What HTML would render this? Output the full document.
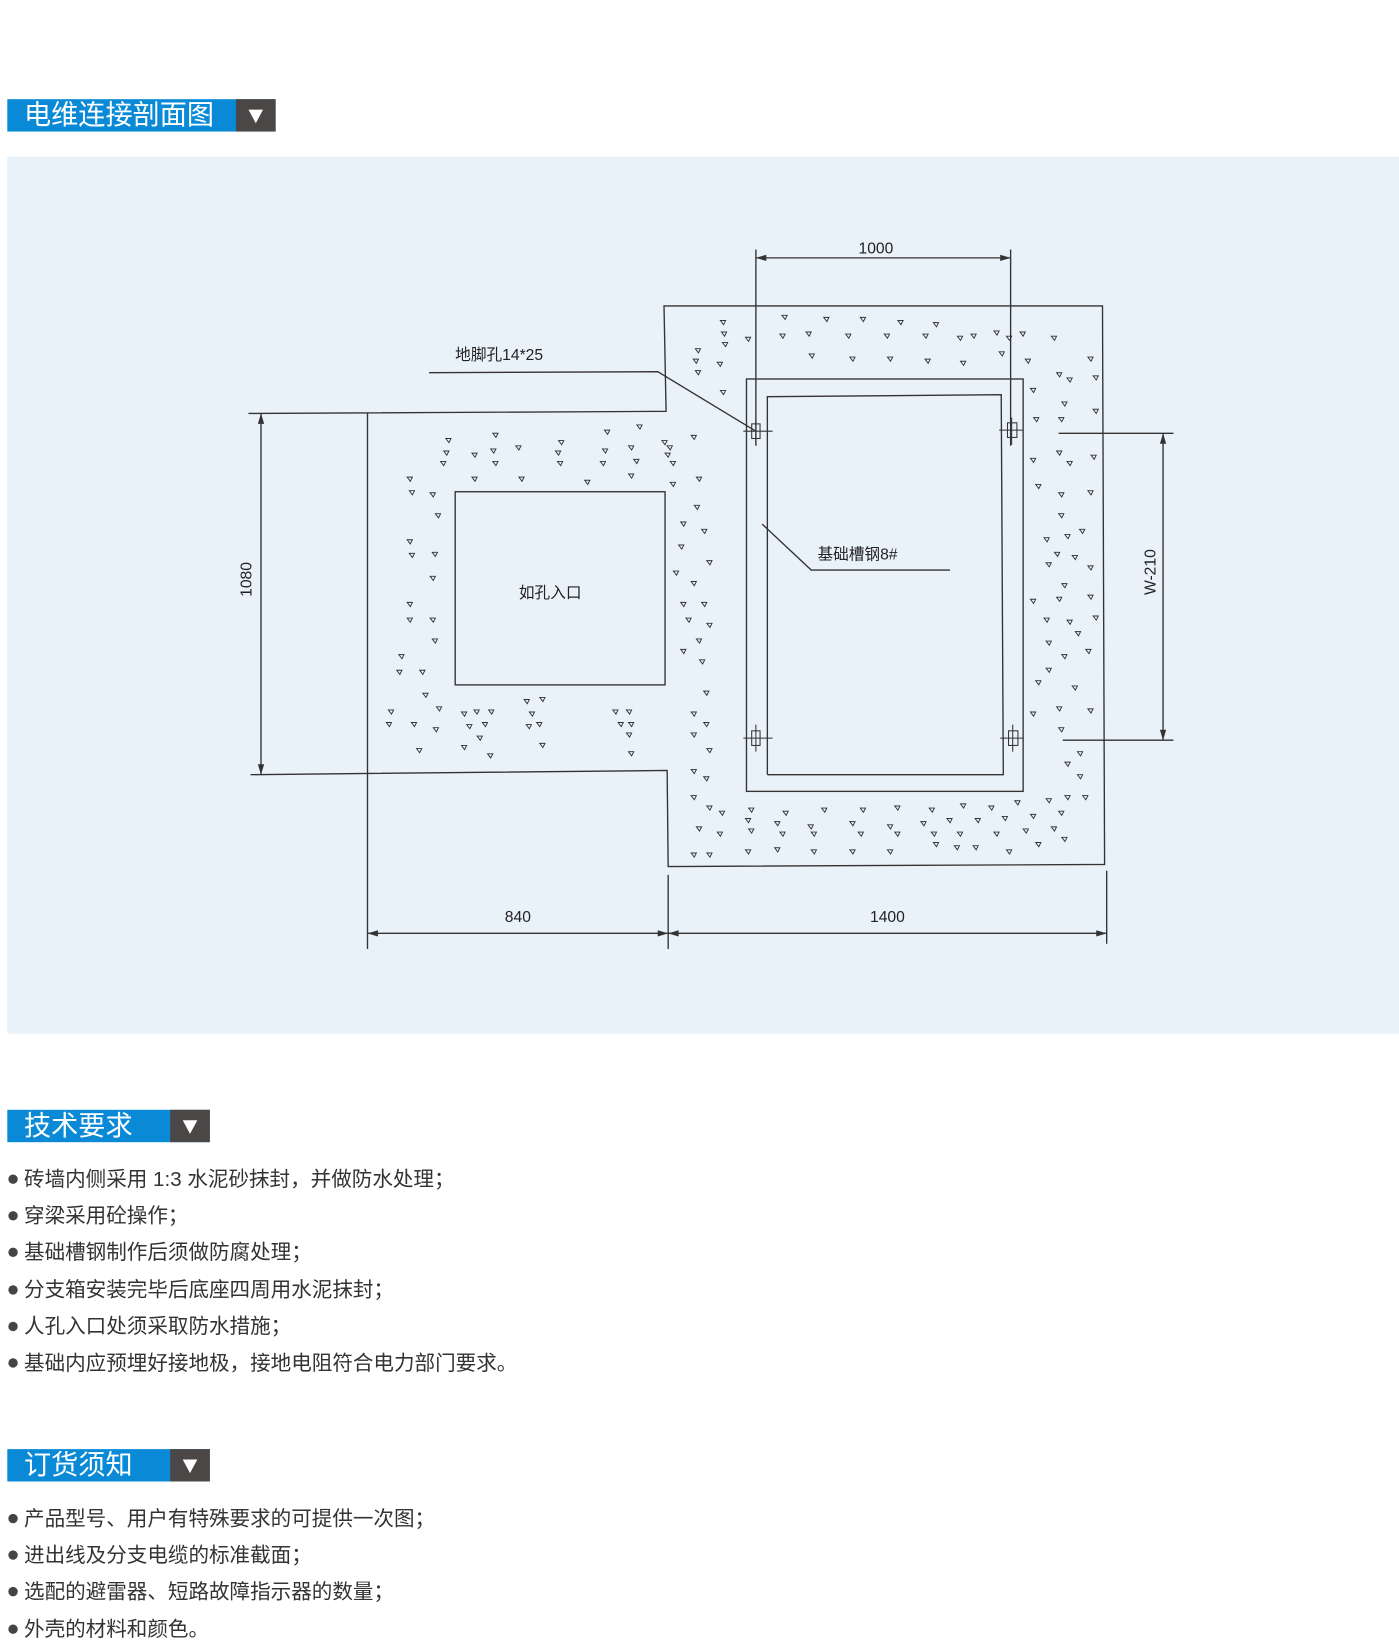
<!DOCTYPE html>
<html><head><meta charset="utf-8"><style>
html,body{margin:0;padding:0;background:#fff;width:1399px;height:1641px;overflow:hidden}
#w{position:absolute;left:0;top:0;width:1340px;height:1572px;transform:scale(1.04403);transform-origin:0 0;font-family:"Liberation Sans","Noto Sans CJK SC",sans-serif}
.bar{position:absolute;left:7px;height:31px;background:#0a8ad6;color:#fff;font-size:26px;line-height:31px}
.bar span{padding-left:16px}
.bar i{position:absolute;right:0;top:0;width:38px;height:31px;background:#4a4746}
.bar i:after{content:"";position:absolute;left:12px;top:10px;border-left:7px solid transparent;border-right:7px solid transparent;border-top:13px solid #fff}
.ul{position:absolute;left:8px;font-size:19.7px;color:#333;line-height:35.2px}
.ul div:before{content:"";display:inline-block;width:9px;height:9px;border-radius:50%;background:#444;margin-right:6px;vertical-align:2px}
</style></head><body><div id="w">
<div class="bar" style="top:95px;width:257px"><span>电维连接剖面图</span><i></i></div>
<div style="position:absolute;left:7px;top:150px;width:1335px;height:840px;background:#e9f1f9"></div>
<svg style="position:absolute;left:2px;top:2px" width="1340" height="1000" viewBox="0 0 1340 1000" font-family="Liberation Sans,Noto Sans CJK SC,sans-serif" font-size="15" fill="#222">
<g stroke="#333" stroke-width="1.3" fill="none">
<polyline points="236,394 636,392 634,291 1054,291 1056,826 638,828 637,736 238,740"/>
<line x1="350" y1="394" x2="350" y2="907"/>
<line x1="248" y1="394" x2="248" y2="740"/>
<rect x="434" y="469" width="201" height="185"/>
<rect x="713" y="361" width="265" height="395"/>
<polyline points="733,740 733,378 957,376 959,740 733,740"/>
<line x1="722" y1="237" x2="722" y2="425"/><line x1="966" y1="237" x2="966" y2="425"/>
<line x1="722" y1="245" x2="966" y2="245"/>
<polyline points="409,355 628,354 722,411"/>
<polyline points="728,500 775,544 908,544"/>
<line x1="1012" y1="413" x2="1122" y2="413"/><line x1="1016" y1="707" x2="1122" y2="707"/>
<line x1="1112" y1="413" x2="1112" y2="707"/>
<line x1="638" y1="836" x2="638" y2="907"/><line x1="1058" y1="832" x2="1058" y2="902"/>
<line x1="350" y1="892" x2="1058" y2="892"/>
<g stroke-width="1"><rect x="718" y="404" width="8" height="14"/><line x1="710" y1="411" x2="738" y2="411"/><line x1="722" y1="398" x2="722" y2="424"/>
<rect x="963" y="403" width="9" height="14"/><line x1="955" y1="410" x2="978" y2="410"/><line x1="967" y1="398" x2="967" y2="424"/>
<rect x="718" y="698" width="8" height="14"/><line x1="710" y1="705" x2="738" y2="705"/><line x1="722" y1="692" x2="722" y2="718"/>
<rect x="964" y="698" width="9" height="14"/><line x1="956" y1="705" x2="978" y2="705"/><line x1="968" y1="692" x2="968" y2="718"/></g>
</g>
<g fill="#333">
<path d="M248,394 l-3,10 h6z M248,740 l-3,-10 h6z M722,245 l10,-3 v6z M966,245 l-10,-3 v6z M1112,413 l-3,10 h6z M1112,707 l-3,-10 h6z M350,892 l10,-3 v6z M638,892 l-10,-3 v6z M638,892 l10,-3 v6z M1058,892 l-10,-3 v6z"/>
</g>
<path fill="none" stroke="#333" stroke-width="0.9" d="
M688,305 l5,0 -2,4z M747,300 l5,0 -2,4z M787,302 l5,0 -2,4z M822,302 l5,0 -2,4z M858,305 l5,0 -2,4z M892,307 l5,0 -2,4z M950,315 l5,0 -2,4z M975,316 l5,0 -2,4z
M689,316 l5,0 -2,4z M745,318 l5,0 -2,4z M770,316 l5,0 -2,4z M808,318 l5,0 -2,4z M845,318 l5,0 -2,4z M882,318 l5,0 -2,4z M915,320 l5,0 -2,4z M928,318 l5,0 -2,4z M962,320 l5,0 -2,4z M1005,320 l5,0 -2,4z M1040,340 l5,0 -2,4z
M664,332 l5,0 -2,4z M690,326 l5,0 -2,4z M712,321 l5,0 -2,4z M773,337 l5,0 -2,4z M812,340 l5,0 -2,4z M848,340 l5,0 -2,4z M884,342 l5,0 -2,4z M918,344 l5,0 -2,4z M955,335 l5,0 -2,4z M980,342 l5,0 -2,4z
M662,342 l5,0 -2,4z M685,345 l5,0 -2,4z M664,353 l5,0 -2,4z M688,372 l5,0 -2,4z M1010,355 l5,0 -2,4z M1020,360 l5,0 -2,4z M1045,358 l5,0 -2,4z M985,370 l5,0 -2,4z M1015,383 l5,0 -2,4z M1045,390 l5,0 -2,4z M988,398 l5,0 -2,4z M1012,398 l5,0 -2,4z
M985,437 l5,0 -2,4z M1010,430 l5,0 -2,4z M1020,440 l5,0 -2,4z M1043,434 l5,0 -2,4z M990,462 l5,0 -2,4z M1012,470 l5,0 -2,4z M1040,468 l5,0 -2,4z M1012,490 l5,0 -2,4z M998,513 l5,0 -2,4z M1018,510 l5,0 -2,4z M1032,505 l5,0 -2,4z M1008,527 l5,0 -2,4z M1025,530 l5,0 -2,4z M1040,540 l5,0 -2,4z M1000,537 l5,0 -2,4z M1015,557 l5,0 -2,4z M985,572 l5,0 -2,4z M1010,570 l5,0 -2,4z M1040,568 l5,0 -2,4z M998,590 l5,0 -2,4z M1020,592 l5,0 -2,4z M1045,588 l5,0 -2,4z M1000,612 l5,0 -2,4z M1028,603 l5,0 -2,4z M1015,625 l5,0 -2,4z M1038,620 l5,0 -2,4z M1000,638 l5,0 -2,4z M990,650 l5,0 -2,4z M1025,655 l5,0 -2,4z M1010,675 l5,0 -2,4z M1040,677 l5,0 -2,4z M985,680 l5,0 -2,4z M1012,695 l5,0 -2,4z M1030,718 l5,0 -2,4z M1018,728 l5,0 -2,4z M1030,740 l5,0 -2,4z M1018,760 l5,0 -2,4z M1035,760 l5,0 -2,4z
M715,772 l5,0 -2,4z M748,775 l5,0 -2,4z M785,772 l5,0 -2,4z M822,772 l5,0 -2,4z M855,770 l5,0 -2,4z M888,772 l5,0 -2,4z M918,768 l5,0 -2,4z M945,770 l5,0 -2,4z M970,765 l5,0 -2,4z M1000,763 l5,0 -2,4z
M712,782 l5,0 -2,4z M740,785 l5,0 -2,4z M772,788 l5,0 -2,4z M812,785 l5,0 -2,4z M848,788 l5,0 -2,4z M880,785 l5,0 -2,4z M905,782 l5,0 -2,4z M932,782 l5,0 -2,4z M958,780 l5,0 -2,4z M985,778 l5,0 -2,4z M1012,775 l5,0 -2,4z
M715,792 l5,0 -2,4z M745,795 l5,0 -2,4z M775,795 l5,0 -2,4z M820,795 l5,0 -2,4z M855,795 l5,0 -2,4z M890,795 l5,0 -2,4z M915,795 l5,0 -2,4z M950,795 l5,0 -2,4z M978,792 l5,0 -2,4z M1005,790 l5,0 -2,4z
M712,812 l5,0 -2,4z M740,810 l5,0 -2,4z M775,812 l5,0 -2,4z M812,812 l5,0 -2,4z M848,812 l5,0 -2,4z M892,805 l5,0 -2,4z M912,808 l5,0 -2,4z M930,808 l5,0 -2,4z M962,812 l5,0 -2,4z M990,805 l5,0 -2,4z M1015,800 l5,0 -2,4z
M660,415 l5,0 -2,4z M637,425 l5,0 -2,4z M640,440 l5,0 -2,4z M665,455 l5,0 -2,4z M640,460 l5,0 -2,4z M663,482 l5,0 -2,4z M650,498 l5,0 -2,4z M670,505 l5,0 -2,4z M648,520 l5,0 -2,4z M675,535 l5,0 -2,4z M643,545 l5,0 -2,4z M660,555 l5,0 -2,4z M650,575 l5,0 -2,4z M670,575 l5,0 -2,4z M655,590 l5,0 -2,4z M675,595 l5,0 -2,4z M665,610 l5,0 -2,4z M650,620 l5,0 -2,4z M668,630 l5,0 -2,4z M672,660 l5,0 -2,4z M660,680 l5,0 -2,4z M672,690 l5,0 -2,4z M660,700 l5,0 -2,4z M675,715 l5,0 -2,4z M660,735 l5,0 -2,4z M672,742 l5,0 -2,4z M660,760 l5,0 -2,4z M675,770 l5,0 -2,4z M665,790 l5,0 -2,4z M685,795 l5,0 -2,4z M660,815 l5,0 -2,4z M675,815 l5,0 -2,4z M687,775 l5,0 -2,4z
M425,418 l5,0 -2,4z M470,413 l5,0 -2,4z M533,420 l5,0 -2,4z M577,410 l5,0 -2,4z M608,405 l5,0 -2,4z M423,430 l5,0 -2,4z M450,432 l5,0 -2,4z M468,428 l5,0 -2,4z M492,425 l5,0 -2,4z M530,430 l5,0 -2,4z M575,428 l5,0 -2,4z M600,425 l5,0 -2,4z M632,420 l5,0 -2,4z M420,440 l5,0 -2,4z M470,440 l5,0 -2,4z M532,440 l5,0 -2,4z M573,440 l5,0 -2,4z M605,438 l5,0 -2,4z M635,432 l5,0 -2,4z
M388,455 l5,0 -2,4z M450,455 l5,0 -2,4z M495,455 l5,0 -2,4z M558,458 l5,0 -2,4z M600,452 l5,0 -2,4z M390,468 l5,0 -2,4z M410,470 l5,0 -2,4z M415,490 l5,0 -2,4z M388,515 l5,0 -2,4z M390,528 l5,0 -2,4z M412,527 l5,0 -2,4z M410,550 l5,0 -2,4z M388,575 l5,0 -2,4z M388,590 l5,0 -2,4z M410,590 l5,0 -2,4z M412,610 l5,0 -2,4z M380,625 l5,0 -2,4z M378,640 l5,0 -2,4z M400,640 l5,0 -2,4z M403,662 l5,0 -2,4z M370,678 l5,0 -2,4z M368,690 l5,0 -2,4z M392,690 l5,0 -2,4z M416,675 l5,0 -2,4z M413,695 l5,0 -2,4z M397,715 l5,0 -2,4z
M440,680 l5,0 -2,4z M452,678 l5,0 -2,4z M466,678 l5,0 -2,4z M445,692 l5,0 -2,4z M460,690 l5,0 -2,4z M455,703 l5,0 -2,4z M440,712 l5,0 -2,4z M465,720 l5,0 -2,4z M500,668 l5,0 -2,4z M515,666 l5,0 -2,4z M505,680 l5,0 -2,4z M512,690 l5,0 -2,4z M502,692 l5,0 -2,4z M515,710 l5,0 -2,4z M585,678 l5,0 -2,4z M598,678 l5,0 -2,4z M590,690 l5,0 -2,4z M600,690 l5,0 -2,4z M598,700 l5,0 -2,4z M600,718 l5,0 -2,4z"/>
<text x="434" y="343">地脚孔14*25</text>
<text x="781" y="534">基础槽钢8#</text>
<text x="525" y="571" text-anchor="middle">如孔入口</text>
<text x="837" y="241" text-anchor="middle">1000</text>
<text x="494" y="881" text-anchor="middle">840</text>
<text x="848" y="881" text-anchor="middle">1400</text>
<text transform="translate(239,553) rotate(-90)" text-anchor="middle">1080</text>
<text transform="translate(1105,546) rotate(-90)" text-anchor="middle">W-210</text>
</svg>
<div class="bar" style="top:1063px;width:194px"><span>技术要求</span><i></i></div>
<div class="ul" style="top:1113px">
<div>砖墙内侧采用 1:3 水泥砂抹封，并做防水处理；</div>
<div>穿梁采用砼操作；</div>
<div>基础槽钢制作后须做防腐处理；</div>
<div>分支箱安装完毕后底座四周用水泥抹封；</div>
<div>人孔入口处须采取防水措施；</div>
<div>基础内应预埋好接地极，接地电阻符合电力部门要求。</div>
</div>
<div class="bar" style="top:1388px;width:194px"><span>订货须知</span><i></i></div>
<div class="ul" style="top:1438px">
<div>产品型号、用户有特殊要求的可提供一次图；</div>
<div>进出线及分支电缆的标准截面；</div>
<div>选配的避雷器、短路故障指示器的数量；</div>
<div>外壳的材料和颜色。</div>
</div>
</div></body></html>
